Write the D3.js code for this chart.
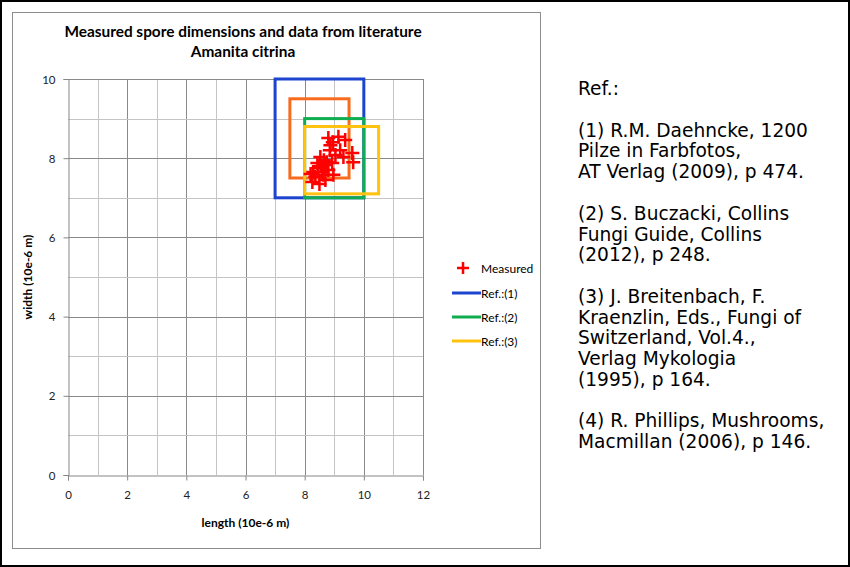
<!DOCTYPE html>
<html><head><meta charset="utf-8">
<script src="https://cdn.jsdelivr.net/npm/d3@7"></script>
<style>
html,body{margin:0;padding:0;background:#fff;}
svg{display:block;}
</style></head>
<body>
<svg id="chart" width="850" height="567"></svg>
<script>
// ---- data ----
const sporeLength = [8.80, 9.14, 9.37, 8.87, 9.61, 8.53, 9.04, 9.31, 9.64, 8.43, 8.70, 8.93, 8.29, 8.60, 8.80, 8.36, 8.26, 8.63, 8.97, 8.46, 8.65, 8.55, 8.75, 8.85, 8.95, 9.20, 8.20, 8.70, 8.50];
const sporeWidth  = [8.51, 8.54, 8.46, 8.33, 8.13, 8.03, 8.08, 8.03, 7.90, 7.88, 7.83, 7.88, 7.65, 7.65, 7.70, 7.53, 7.40, 7.58, 7.58, 7.75, 7.95, 7.80, 7.90, 8.20, 8.40, 8.20, 7.60, 7.45, 7.35];
const refNames   = ["Ref.:(1)", "Ref.:(4)", "Ref.:(2)", "Ref.:(3)"];
const refLenMin  = [7.0, 7.5, 8.0, 8.0];
const refLenMax  = [10.0, 9.5, 10.0, 10.5];
const refWidMin  = [7.0, 7.5, 7.0, 7.1];
const refWidMax  = [10.0, 9.5, 9.0, 8.8];
const refInLegend = [true, false, true, true];
const xTicks = [0, 2, 4, 6, 8, 10, 12];
const yTicks = [0, 2, 4, 6, 8, 10];
const refText = ["Ref.:", "", "(1) R.M. Daehncke, 1200", "Pilze in Farbfotos,", "AT Verlag (2009), p 474.", "",
  "(2) S. Buczacki, Collins", "Fungi Guide, Collins", "(2012), p 248.", "",
  "(3) J. Breitenbach, F.", "Kraenzlin, Eds., Fungi of", "Switzerland, Vol.4.,", "Verlag Mykologia", "(1995), p 164.", "",
  "(4) R. Phillips, Mushrooms,", "Macmillan (2006), p 146."];

// ---- styles ----
const refColors = ["#1c44cf", "#f86b1e", "#10ac50", "#ffc20e"];
const svg = d3.select("#chart");
const font = "Lato, 'Open Sans', sans-serif";

// page border
svg.append("rect").attr("x",1).attr("y",1).attr("width",848).attr("height",565)
  .attr("fill","#fff").attr("stroke","#000").attr("stroke-width",2);
// chart area border
svg.append("rect").attr("x",12.5).attr("y",12.5).attr("width",528).attr("height",536)
  .attr("fill","#fff").attr("stroke","#8c8c8c").attr("stroke-width",1);

const x = d3.scaleLinear().domain([0,12]).range([68,423]);
const y = d3.scaleLinear().domain([0,10]).range([475,79]);

// grid
const g = svg.append("g");
d3.range(1,13).forEach(v=>{
  g.append("line").attr("x1",Math.round(x(v))+0.5).attr("x2",Math.round(x(v))+0.5)
   .attr("y1",y(0)).attr("y2",y(10))
   .attr("stroke", v%2===0 ? "#8a8a8a" : "#c4c4c4").attr("stroke-width",1);
});
d3.range(1,11).forEach(v=>{
  g.append("line").attr("y1",Math.round(y(v))+0.5).attr("y2",Math.round(y(v))+0.5)
   .attr("x1",x(0)).attr("x2",x(12))
   .attr("stroke", v%2===0 ? "#8a8a8a" : "#c4c4c4").attr("stroke-width",1);
});

// axes
const xAxis = d3.axisBottom(x).tickValues(xTicks).tickSize(5).tickPadding(8).tickFormat(d3.format("d"));
const yAxis = d3.axisLeft(y).tickValues(yTicks).tickSize(5).tickPadding(8).tickFormat(d3.format("d"));
const gx = svg.append("g").attr("transform",`translate(0,${Math.round(y(0))+0.5})`).call(xAxis);
const gy = svg.append("g").attr("transform",`translate(${Math.round(x(0))+0.5},0)`).call(yAxis);
[gx,gy].forEach(a=>{
  a.select(".domain").attr("stroke","#868686");
  a.selectAll(".tick line").attr("stroke","#868686");
  a.selectAll(".tick text").attr("fill","#222").attr("font-family",font).attr("font-size",11.5);
});
gx.selectAll(".tick text").attr("dy","0.9em");
gy.selectAll(".tick text").attr("dy","0.35em");

// reference rectangles
refNames.forEach((n,i)=>{
  svg.append("rect")
    .attr("x",x(refLenMin[i])).attr("y",y(refWidMax[i]))
    .attr("width",x(refLenMax[i])-x(refLenMin[i]))
    .attr("height",y(refWidMin[i])-y(refWidMax[i]))
    .attr("fill","none").attr("stroke",refColors[i]).attr("stroke-width",3);
});

// measured points (crosses)
const pts = sporeLength.map((l,i)=>[l, sporeWidth[i]]);
const cs = 7;
svg.append("g").selectAll("path").data(pts).join("path")
  .attr("d", d=>`M${x(d[0])-cs},${y(d[1])}H${x(d[0])+cs}M${x(d[0])},${y(d[1])-cs}V${y(d[1])+cs}`)
  .attr("stroke","#ff0000").attr("stroke-width",2.5).attr("fill","none");

// title
svg.append("text").attr("x",243).attr("y",37).attr("text-anchor","middle")
  .attr("font-family",font).attr("font-weight","bold").attr("font-size",15.4).attr("fill","#000")
  .text("Measured spore dimensions and data from literature");
svg.append("text").attr("x",243).attr("y",57).attr("text-anchor","middle")
  .attr("font-family",font).attr("font-weight","bold").attr("font-size",15.4).attr("fill","#000")
  .text("Amanita citrina");

// axis titles
svg.append("text").attr("x",x(6)).attr("y",527).attr("text-anchor","middle")
  .attr("font-family",font).attr("font-weight","bold").attr("font-size",12).attr("fill","#000")
  .text("length (10e-6 m)");
svg.append("text").attr("transform",`translate(32,${y(5)}) rotate(-90)`).attr("text-anchor","middle")
  .attr("font-family",font).attr("font-weight","bold").attr("font-size",12).attr("fill","#000")
  .text("width (10e-6 m)");

// legend
const lg = svg.append("g").attr("font-family",font).attr("font-size",12).attr("fill","#000");
lg.append("path").attr("d","M457,268H469M463,262V274").attr("stroke","#ff0000").attr("stroke-width",2.5);
lg.append("text").attr("x",481).attr("y",272.5).text("Measured");
let ly = 293;
refNames.forEach((n,i)=>{
  if(!refInLegend[i]) return;
  lg.append("line").attr("x1",452).attr("x2",481).attr("y1",ly).attr("y2",ly)
    .attr("stroke",refColors[i]).attr("stroke-width",3);
  lg.append("text").attr("x",481).attr("y",ly+4.5).text(n);
  ly += 24;
});

// reference text
const rt = svg.append("g").attr("font-family","'DejaVu Sans', Verdana, sans-serif").attr("font-size",18.6).attr("fill","#000");
let ty = 95;
refText.forEach((t,i)=>{
  if(t==="") { ty += 21; return; }
  rt.append("text").attr("x",578).attr("y",ty).text(t);
  ty += 20.7;
});
</script>
</body></html>
